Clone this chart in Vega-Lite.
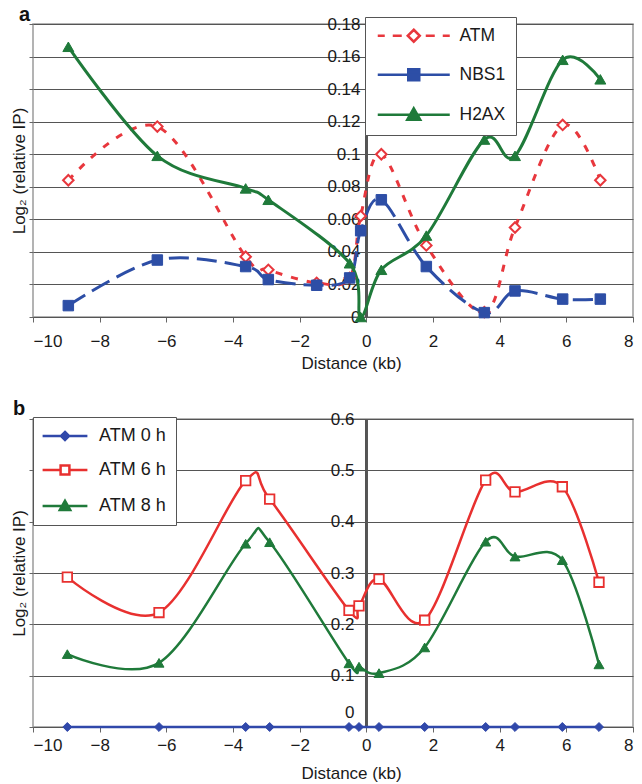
{
  "$schema": "https://vega.github.io/schema/vega-lite/v6.json",
  "background": "white",
  "padding": {"left": 9, "top": 4, "right": 5, "bottom": 0},
  "bounds": "flush",
  "spacing": 102,
  "resolve": {
    "scale": {"color": "independent", "shape": "independent", "fill": "independent"},
    "legend": {"color": "independent", "shape": "independent", "fill": "independent"}
  },
  "config": {
    "font": "Liberation Sans",
    "view": {"stroke": "#9a9a9a", "strokeWidth": 1.5},
    "axis": {
      "labelFont": "Liberation Sans", "labelFontSize": 17, "labelColor": "#1a1a1a", "labelOverlap": false,
      "titleFont": "Liberation Sans", "titleFontSize": 17, "titleFontWeight": "normal", "titleColor": "#1a1a1a",
      "tickColor": "#666", "domainColor": "#555", "gridColor": "#555", "gridWidth": 1.2
    },
    "legend": {"labelFont": "Liberation Sans", "labelFontSize": 17.5, "labelColor": "#1a1a1a"}
  },
  "datasets": {
    "a": [
      {"protein": "ATM", "distance": -8.94, "value": 0.084},
      {"protein": "ATM", "distance": -6.27, "value": 0.117},
      {"protein": "ATM", "distance": -3.62, "value": 0.037},
      {"protein": "ATM", "distance": -2.94, "value": 0.029},
      {"protein": "ATM", "distance": -1.49, "value": 0.021},
      {"protein": "ATM", "distance": -0.5, "value": 0.024},
      {"protein": "ATM", "distance": -0.17, "value": 0.062},
      {"protein": "ATM", "distance": 0.45, "value": 0.1},
      {"protein": "ATM", "distance": 1.8, "value": 0.044},
      {"protein": "ATM", "distance": 3.54, "value": 0.003},
      {"protein": "ATM", "distance": 4.46, "value": 0.055},
      {"protein": "ATM", "distance": 5.89, "value": 0.118},
      {"protein": "ATM", "distance": 7.02, "value": 0.084},
      {"protein": "NBS1", "distance": -8.94, "value": 0.007},
      {"protein": "NBS1", "distance": -6.27, "value": 0.035},
      {"protein": "NBS1", "distance": -3.62, "value": 0.031},
      {"protein": "NBS1", "distance": -2.94, "value": 0.023},
      {"protein": "NBS1", "distance": -1.49, "value": 0.0195},
      {"protein": "NBS1", "distance": -0.5, "value": 0.024},
      {"protein": "NBS1", "distance": -0.17, "value": 0.053},
      {"protein": "NBS1", "distance": 0.45, "value": 0.072},
      {"protein": "NBS1", "distance": 1.8, "value": 0.031},
      {"protein": "NBS1", "distance": 3.54, "value": 0.0027},
      {"protein": "NBS1", "distance": 4.46, "value": 0.016},
      {"protein": "NBS1", "distance": 5.89, "value": 0.011},
      {"protein": "NBS1", "distance": 7.02, "value": 0.011},
      {"protein": "H2AX", "distance": -8.94, "value": 0.166},
      {"protein": "H2AX", "distance": -6.27, "value": 0.099},
      {"protein": "H2AX", "distance": -3.62, "value": 0.079},
      {"protein": "H2AX", "distance": -2.94, "value": 0.072},
      {"protein": "H2AX", "distance": -0.5, "value": 0.033},
      {"protein": "H2AX", "distance": -0.17, "value": 0.0},
      {"protein": "H2AX", "distance": 0.45, "value": 0.029},
      {"protein": "H2AX", "distance": 1.8, "value": 0.05},
      {"protein": "H2AX", "distance": 3.54, "value": 0.109},
      {"protein": "H2AX", "distance": 4.46, "value": 0.099},
      {"protein": "H2AX", "distance": 5.89, "value": 0.158},
      {"protein": "H2AX", "distance": 7.02, "value": 0.146}
    ],
    "b": [
      {"series": "ATM 0 h", "distance": -8.97, "value": 0},
      {"series": "ATM 0 h", "distance": -6.22, "value": 0},
      {"series": "ATM 0 h", "distance": -3.62, "value": 0},
      {"series": "ATM 0 h", "distance": -2.9, "value": 0},
      {"series": "ATM 0 h", "distance": -0.52, "value": 0},
      {"series": "ATM 0 h", "distance": -0.22, "value": 0},
      {"series": "ATM 0 h", "distance": 0.38, "value": 0},
      {"series": "ATM 0 h", "distance": 1.75, "value": 0},
      {"series": "ATM 0 h", "distance": 3.58, "value": 0},
      {"series": "ATM 0 h", "distance": 4.46, "value": 0},
      {"series": "ATM 0 h", "distance": 5.88, "value": 0},
      {"series": "ATM 0 h", "distance": 6.98, "value": 0},
      {"series": "ATM 6 h", "distance": -8.97, "value": 0.292},
      {"series": "ATM 6 h", "distance": -6.22, "value": 0.223},
      {"series": "ATM 6 h", "distance": -3.62, "value": 0.48},
      {"series": "ATM 6 h", "distance": -2.9, "value": 0.444},
      {"series": "ATM 6 h", "distance": -0.52, "value": 0.227},
      {"series": "ATM 6 h", "distance": -0.22, "value": 0.236},
      {"series": "ATM 6 h", "distance": 0.38, "value": 0.288},
      {"series": "ATM 6 h", "distance": 1.75, "value": 0.208},
      {"series": "ATM 6 h", "distance": 3.58, "value": 0.481},
      {"series": "ATM 6 h", "distance": 4.46, "value": 0.458},
      {"series": "ATM 6 h", "distance": 5.88, "value": 0.468},
      {"series": "ATM 6 h", "distance": 6.98, "value": 0.282},
      {"series": "ATM 8 h", "distance": -8.97, "value": 0.142},
      {"series": "ATM 8 h", "distance": -6.22, "value": 0.125},
      {"series": "ATM 8 h", "distance": -3.62, "value": 0.357},
      {"series": "ATM 8 h", "distance": -2.9, "value": 0.36},
      {"series": "ATM 8 h", "distance": -0.52, "value": 0.124},
      {"series": "ATM 8 h", "distance": -0.22, "value": 0.1175},
      {"series": "ATM 8 h", "distance": 0.38, "value": 0.105},
      {"series": "ATM 8 h", "distance": 1.75, "value": 0.155},
      {"series": "ATM 8 h", "distance": 3.58, "value": 0.361},
      {"series": "ATM 8 h", "distance": 4.46, "value": 0.332},
      {"series": "ATM 8 h", "distance": 5.88, "value": 0.325},
      {"series": "ATM 8 h", "distance": 6.98, "value": 0.122}
    ]
  },
  "vconcat": [
    {
      "width": 600,
      "height": 293,
      "title": {"text": "a", "anchor": "start", "frame": "group", "fontSize": 20, "fontWeight": "bold", "font": "Liberation Sans", "color": "#111", "dx": -14, "dy": 11, "offset": 1},
      "data": {"name": "a"},
      "layer": [
        {
          "mark": {"type": "rule", "color": "#555", "strokeWidth": 1.5},
          "encoding": {"x": {"datum": 0, "type": "quantitative"}}
        },
        {
          "transform": [{"filter": "datum.protein === 'ATM'"}],
          "mark": {"type": "line", "interpolate": "cardinal", "strokeWidth": 3, "color": "#e8373d", "strokeDash": [7, 9]},
          "encoding": {
            "x": {"field": "distance", "type": "quantitative", "scale": {"domain": [-10, 8], "nice": false},
              "axis": {"values": [-10, -8, -6, -4, -2, 0, 2, 4, 6, 8], "tickCount": 10, "title": "Distance (kb)", "grid": false, "domain": true, "tickSize": 5, "labelPadding": 11, "titlePadding": 6, "titleX": 318}},
            "y": {"field": "value", "type": "quantitative", "scale": {"domain": [0, 0.18], "nice": false},
              "axis": {"values": [0, 0.02, 0.04, 0.06, 0.08, 0.1, 0.12, 0.14, 0.16, 0.18], "tickCount": 10, "format": ".2~f", "title": "Log₂ (relative IP)", "grid": true, "domain": false, "tickSize": 4, "labelAlign": "right", "labelPadding": -331, "titlePadding": 0}}
          }
        },
        {
          "transform": [{"filter": "datum.protein === 'NBS1'"}],
          "mark": {"type": "line", "interpolate": "cardinal", "strokeWidth": 3, "color": "#2d4ea6", "strokeDash": [20, 8]},
          "encoding": {"x": {"field": "distance", "type": "quantitative"}, "y": {"field": "value", "type": "quantitative"}}
        },
        {
          "transform": [{"filter": "datum.protein === 'H2AX'"}],
          "mark": {"type": "line", "interpolate": "cardinal", "strokeWidth": 3, "color": "#1f7a3a"},
          "encoding": {"x": {"field": "distance", "type": "quantitative"}, "y": {"field": "value", "type": "quantitative"}}
        },
        {
          "transform": [{"filter": "datum.protein === 'ATM'"}],
          "mark": {"type": "point", "shape": "diamond", "filled": true, "fill": "white", "stroke": "#e8373d", "strokeWidth": 2, "size": 110, "opacity": 1},
          "encoding": {"x": {"field": "distance", "type": "quantitative"}, "y": {"field": "value", "type": "quantitative"}}
        },
        {
          "transform": [{"filter": "datum.protein === 'NBS1'"}],
          "mark": {"type": "point", "shape": "square", "filled": true, "fill": "#2d4ea6", "stroke": "#2d4ea6", "strokeWidth": 1, "size": 110, "opacity": 1},
          "encoding": {"x": {"field": "distance", "type": "quantitative"}, "y": {"field": "value", "type": "quantitative"}}
        },
        {
          "transform": [{"filter": "datum.protein === 'H2AX'"}],
          "mark": {"type": "point", "shape": "triangle-up", "filled": true, "fill": "#1f7a3a", "stroke": "#1f7a3a", "strokeWidth": 1, "size": 120, "opacity": 1},
          "encoding": {"x": {"field": "distance", "type": "quantitative"}, "y": {"field": "value", "type": "quantitative"}}
        },
        {
          "mark": {"type": "point", "opacity": 0},
          "encoding": {
            "x": {"field": "distance", "type": "quantitative"},
            "y": {"field": "value", "type": "quantitative"},
            "color": {"field": "protein", "type": "nominal",
              "scale": {"domain": ["ATM", "NBS1", "H2AX"], "range": ["#e8373d", "#2d4ea6", "#1f7a3a"]},
              "legend": {
                "title": null, "orient": "none", "legendX": 332, "legendY": -7,
                "fillColor": "white", "strokeColor": "#555", "padding": 10,
                "symbolSize": 100, "symbolOffset": 30, "labelOffset": 37, "rowPadding": 17, "symbolOpacity": 1, "symbolStrokeWidth": 2.5
              }},
            "shape": {"field": "protein", "type": "nominal",
              "scale": {"domain": ["ATM", "NBS1", "H2AX"], "range": ["M-7.2,0H-5.8M-4.2,0H-2.4M2.4,0H4.2M5.8,0H7.2M0,-1.2L1.2,0L0,1.2L-1.2,0Z", "M-7.2,0H7.2M-1.1,-1.1H1.1V1.1H-1.1Z", "M-7.2,0H7.2M0,-1.3L1.3,1L-1.3,1Z"]}},
            "fill": {"field": "protein", "type": "nominal",
              "scale": {"domain": ["ATM", "NBS1", "H2AX"], "range": ["white", "#2d4ea6", "#1f7a3a"]}}
          }
        }
      ]
    },
    {
      "width": 600,
      "height": 308,
      "title": {"text": "b", "anchor": "start", "frame": "group", "fontSize": 20, "fontWeight": "bold", "font": "Liberation Sans", "color": "#111", "dx": -20, "dy": 13, "offset": 4},
      "data": {"name": "b"},
      "layer": [
        {
          "mark": {"type": "rule", "color": "#555", "strokeWidth": 1.5},
          "encoding": {"x": {"datum": 0, "type": "quantitative"}}
        },
        {
          "transform": [{"filter": "datum.series === 'ATM 0 h'"}],
          "mark": {"type": "line", "interpolate": "cardinal", "strokeWidth": 2.5, "color": "#3048aa"},
          "encoding": {
            "x": {"field": "distance", "type": "quantitative", "scale": {"domain": [-10, 8], "nice": false},
              "axis": {"values": [-10, -8, -6, -4, -2, 0, 2, 4, 6, 8], "tickCount": 10, "title": "Distance (kb)", "grid": false, "domain": true, "tickSize": 5, "labelPadding": 5, "titlePadding": 12, "titleX": 318}},
            "y": {"field": "value", "type": "quantitative", "scale": {"domain": [0, 0.6], "nice": false},
              "axis": {"values": [0, 0.1, 0.2, 0.3, 0.4, 0.5, 0.6], "tickCount": 7, "format": ".1~f", "title": "Log₂ (relative IP)", "grid": true, "domain": false, "tickSize": 4, "labelAlign": "right", "labelPadding": -325, "titlePadding": 0,
                "labelOffset": {"condition": {"test": "datum.value === 0", "value": -15}, "value": 0}}}
          }
        },
        {
          "transform": [{"filter": "datum.series === 'ATM 6 h'"}],
          "mark": {"type": "line", "interpolate": "cardinal", "strokeWidth": 2.5, "color": "#e8302f"},
          "encoding": {"x": {"field": "distance", "type": "quantitative"}, "y": {"field": "value", "type": "quantitative"}}
        },
        {
          "transform": [{"filter": "datum.series === 'ATM 8 h'"}],
          "mark": {"type": "line", "interpolate": "cardinal", "strokeWidth": 2.5, "color": "#1f7a3a"},
          "encoding": {"x": {"field": "distance", "type": "quantitative"}, "y": {"field": "value", "type": "quantitative"}}
        },
        {
          "transform": [{"filter": "datum.series === 'ATM 0 h'"}],
          "mark": {"type": "point", "shape": "diamond", "filled": true, "fill": "#3048aa", "stroke": "#3048aa", "strokeWidth": 1, "size": 80, "opacity": 1},
          "encoding": {"x": {"field": "distance", "type": "quantitative"}, "y": {"field": "value", "type": "quantitative"}}
        },
        {
          "transform": [{"filter": "datum.series === 'ATM 6 h'"}],
          "mark": {"type": "point", "shape": "square", "filled": true, "fill": "white", "stroke": "#e8302f", "strokeWidth": 1.8, "size": 90, "opacity": 1},
          "encoding": {"x": {"field": "distance", "type": "quantitative"}, "y": {"field": "value", "type": "quantitative"}}
        },
        {
          "transform": [{"filter": "datum.series === 'ATM 8 h'"}],
          "mark": {"type": "point", "shape": "triangle-up", "filled": true, "fill": "#1f7a3a", "stroke": "#1f7a3a", "strokeWidth": 1, "size": 100, "opacity": 1},
          "encoding": {"x": {"field": "distance", "type": "quantitative"}, "y": {"field": "value", "type": "quantitative"}}
        },
        {
          "mark": {"type": "point", "opacity": 0},
          "encoding": {
            "x": {"field": "distance", "type": "quantitative"},
            "y": {"field": "value", "type": "quantitative"},
            "color": {"field": "series", "type": "nominal",
              "scale": {"domain": ["ATM 0 h", "ATM 6 h", "ATM 8 h"], "range": ["#3048aa", "#e8302f", "#1f7a3a"]},
              "legend": {
                "title": null, "orient": "none", "legendX": 0, "legendY": -2,
                "fillColor": "white", "strokeColor": "#555", "padding": 10,
                "symbolSize": 64, "symbolOffset": 13, "labelOffset": 25, "rowPadding": 15, "symbolOpacity": 1, "symbolStrokeWidth": 2.5, "labelFontSize": 18
              }},
            "shape": {"field": "series", "type": "nominal",
              "scale": {"domain": ["ATM 0 h", "ATM 6 h", "ATM 8 h"], "range": ["M-5.6,0H5.6M0,-1L1,0L0,1L-1,0Z", "M-5.6,0H-1.1M1.1,0H5.6M-1.1,-1.1H1.1V1.1H-1.1Z", "M-5.6,0H5.6M0,-1.3L1.3,1L-1.3,1Z"]}},
            "fill": {"field": "series", "type": "nominal",
              "scale": {"domain": ["ATM 0 h", "ATM 6 h", "ATM 8 h"], "range": ["#3048aa", "white", "#1f7a3a"]}}
          }
        }
      ]
    }
  ]
}
